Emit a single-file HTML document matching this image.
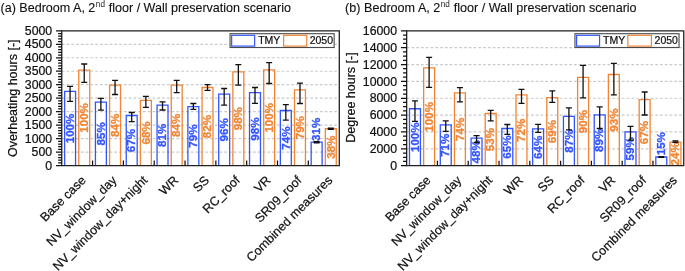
<!DOCTYPE html>
<html lang="en">
<head>
<meta charset="utf-8">
<title>Bedroom A, 2nd floor / Wall preservation scenario</title>
<style>
html,body{margin:0;padding:0;background:#fff;}
body{width:685px;height:271px;overflow:hidden;}
svg{display:block;font-family:'Liberation Sans', Arial, sans-serif;}
.t{stroke:#111;stroke-width:.22px;}
.t2{stroke:#111;stroke-width:.12px;}
.t0{stroke:none;fill:#222;}

</style>
</head>
<body>
<svg xmlns="http://www.w3.org/2000/svg" fill="#111" width="685" height="271" viewBox="0 0 685 271">
<rect width="685" height="271" fill="#fff"/>
<line x1="61.75" y1="152.12" x2="339.30" y2="152.12" stroke="#cacaca" stroke-width="1.2" stroke-dasharray="2.75 2.03"/>
<line x1="61.75" y1="138.64" x2="339.30" y2="138.64" stroke="#cacaca" stroke-width="1.2" stroke-dasharray="2.75 2.03"/>
<line x1="61.75" y1="125.16" x2="339.30" y2="125.16" stroke="#cacaca" stroke-width="1.2" stroke-dasharray="2.75 2.03"/>
<line x1="61.75" y1="111.68" x2="339.30" y2="111.68" stroke="#cacaca" stroke-width="1.2" stroke-dasharray="2.75 2.03"/>
<line x1="61.75" y1="98.20" x2="339.30" y2="98.20" stroke="#cacaca" stroke-width="1.2" stroke-dasharray="2.75 2.03"/>
<line x1="61.75" y1="84.72" x2="339.30" y2="84.72" stroke="#cacaca" stroke-width="1.2" stroke-dasharray="2.75 2.03"/>
<line x1="61.75" y1="71.24" x2="339.30" y2="71.24" stroke="#cacaca" stroke-width="1.2" stroke-dasharray="2.75 2.03"/>
<line x1="61.75" y1="57.76" x2="339.30" y2="57.76" stroke="#cacaca" stroke-width="1.2" stroke-dasharray="2.75 2.03"/>
<line x1="61.75" y1="44.28" x2="339.30" y2="44.28" stroke="#cacaca" stroke-width="1.2" stroke-dasharray="2.75 2.03"/>
<path d="M64.61 165.60V91.30h10.94V165.60" fill="none" stroke="#3355ff" stroke-width="1.3"/>
<path d="M78.77 165.60V70.20h10.94V165.60" fill="none" stroke="#f08535" stroke-width="1.3"/>
<path d="M95.43 165.60V102.20h10.94V165.60" fill="none" stroke="#3355ff" stroke-width="1.3"/>
<path d="M109.59 165.60V85.05h10.94V165.60" fill="none" stroke="#f08535" stroke-width="1.3"/>
<path d="M126.25 165.60V115.50h10.94V165.60" fill="none" stroke="#3355ff" stroke-width="1.3"/>
<path d="M140.41 165.60V100.30h10.94V165.60" fill="none" stroke="#f08535" stroke-width="1.3"/>
<path d="M157.07 165.60V105.10h10.94V165.60" fill="none" stroke="#3355ff" stroke-width="1.3"/>
<path d="M171.23 165.60V85.05h10.94V165.60" fill="none" stroke="#f08535" stroke-width="1.3"/>
<path d="M187.89 165.60V106.70h10.94V165.60" fill="none" stroke="#3355ff" stroke-width="1.3"/>
<path d="M202.05 165.60V87.50h10.94V165.60" fill="none" stroke="#f08535" stroke-width="1.3"/>
<path d="M218.71 165.60V94.20h10.94V165.60" fill="none" stroke="#3355ff" stroke-width="1.3"/>
<path d="M232.87 165.60V71.80h10.94V165.60" fill="none" stroke="#f08535" stroke-width="1.3"/>
<path d="M249.53 165.60V92.60h10.94V165.60" fill="none" stroke="#3355ff" stroke-width="1.3"/>
<path d="M263.69 165.60V69.90h10.94V165.60" fill="none" stroke="#f08535" stroke-width="1.3"/>
<path d="M280.35 165.60V110.50h10.94V165.60" fill="none" stroke="#3355ff" stroke-width="1.3"/>
<path d="M294.51 165.60V89.80h10.94V165.60" fill="none" stroke="#f08535" stroke-width="1.3"/>
<path d="M311.17 165.60V142.20h10.94V165.60" fill="none" stroke="#3355ff" stroke-width="1.3"/>
<path d="M325.33 165.60V128.75h10.94V165.60" fill="none" stroke="#f08535" stroke-width="1.3"/>
<text transform="translate(73.78 128.45) rotate(-90)" text-anchor="middle" font-size="11.6" font-weight="bold" fill="#3355ff" stroke="#3355ff" stroke-width="0.3">100%</text>
<text transform="translate(87.94 117.90) rotate(-90)" text-anchor="middle" font-size="11.6" font-weight="bold" fill="#f08535" stroke="#f08535" stroke-width="0.3">100%</text>
<text transform="translate(104.60 133.90) rotate(-90)" text-anchor="middle" font-size="11.6" font-weight="bold" fill="#3355ff" stroke="#3355ff" stroke-width="0.3">85%</text>
<text transform="translate(118.76 125.32) rotate(-90)" text-anchor="middle" font-size="11.6" font-weight="bold" fill="#f08535" stroke="#f08535" stroke-width="0.3">84%</text>
<text transform="translate(135.42 140.55) rotate(-90)" text-anchor="middle" font-size="11.6" font-weight="bold" fill="#3355ff" stroke="#3355ff" stroke-width="0.3">67%</text>
<text transform="translate(149.58 132.95) rotate(-90)" text-anchor="middle" font-size="11.6" font-weight="bold" fill="#f08535" stroke="#f08535" stroke-width="0.3">68%</text>
<text transform="translate(166.24 135.35) rotate(-90)" text-anchor="middle" font-size="11.6" font-weight="bold" fill="#3355ff" stroke="#3355ff" stroke-width="0.3">81%</text>
<text transform="translate(180.40 125.32) rotate(-90)" text-anchor="middle" font-size="11.6" font-weight="bold" fill="#f08535" stroke="#f08535" stroke-width="0.3">84%</text>
<text transform="translate(197.06 136.15) rotate(-90)" text-anchor="middle" font-size="11.6" font-weight="bold" fill="#3355ff" stroke="#3355ff" stroke-width="0.3">79%</text>
<text transform="translate(211.22 126.55) rotate(-90)" text-anchor="middle" font-size="11.6" font-weight="bold" fill="#f08535" stroke="#f08535" stroke-width="0.3">82%</text>
<text transform="translate(227.88 129.90) rotate(-90)" text-anchor="middle" font-size="11.6" font-weight="bold" fill="#3355ff" stroke="#3355ff" stroke-width="0.3">96%</text>
<text transform="translate(242.04 118.70) rotate(-90)" text-anchor="middle" font-size="11.6" font-weight="bold" fill="#f08535" stroke="#f08535" stroke-width="0.3">98%</text>
<text transform="translate(258.70 129.10) rotate(-90)" text-anchor="middle" font-size="11.6" font-weight="bold" fill="#3355ff" stroke="#3355ff" stroke-width="0.3">98%</text>
<text transform="translate(272.86 117.75) rotate(-90)" text-anchor="middle" font-size="11.6" font-weight="bold" fill="#f08535" stroke="#f08535" stroke-width="0.3">100%</text>
<text transform="translate(289.52 138.05) rotate(-90)" text-anchor="middle" font-size="11.6" font-weight="bold" fill="#3355ff" stroke="#3355ff" stroke-width="0.3">74%</text>
<text transform="translate(303.68 127.70) rotate(-90)" text-anchor="middle" font-size="11.6" font-weight="bold" fill="#f08535" stroke="#f08535" stroke-width="0.3">79%</text>
<text transform="translate(320.34 141.00) rotate(-90)" text-anchor="start" font-size="11.6" font-weight="bold" fill="#3355ff" stroke="#3355ff" stroke-width="0.3">31%</text>
<text transform="translate(334.50 147.18) rotate(-90)" text-anchor="middle" font-size="11.6" font-weight="bold" fill="#f08535" stroke="#f08535" stroke-width="0.3">38%</text>
<path d="M70.08 86.30V101.30M67.08 86.30h6M67.08 101.30h6" fill="none" stroke="#111" stroke-width="1.3"/>
<path d="M84.24 64.00V82.30M81.24 64.00h6M81.24 82.30h6" fill="none" stroke="#111" stroke-width="1.3"/>
<path d="M100.90 98.40V110.20M97.90 98.40h6M97.90 110.20h6" fill="none" stroke="#111" stroke-width="1.3"/>
<path d="M115.06 80.30V94.50M112.06 80.30h6M112.06 94.50h6" fill="none" stroke="#111" stroke-width="1.3"/>
<path d="M131.72 112.50V121.60M128.72 112.50h6M128.72 121.60h6" fill="none" stroke="#111" stroke-width="1.3"/>
<path d="M145.88 96.30V107.30M142.88 96.30h6M142.88 107.30h6" fill="none" stroke="#111" stroke-width="1.3"/>
<path d="M162.54 101.90V110.00M159.54 101.90h6M159.54 110.00h6" fill="none" stroke="#111" stroke-width="1.3"/>
<path d="M176.70 80.30V92.60M173.70 80.30h6M173.70 92.60h6" fill="none" stroke="#111" stroke-width="1.3"/>
<path d="M193.36 103.50V109.40M190.36 103.50h6M190.36 109.40h6" fill="none" stroke="#111" stroke-width="1.3"/>
<path d="M207.52 84.70V90.40M204.52 84.70h6M204.52 90.40h6" fill="none" stroke="#111" stroke-width="1.3"/>
<path d="M224.18 88.50V105.10M221.18 88.50h6M221.18 105.10h6" fill="none" stroke="#111" stroke-width="1.3"/>
<path d="M238.34 64.70V85.05M235.34 64.70h6M235.34 85.05h6" fill="none" stroke="#111" stroke-width="1.3"/>
<path d="M255.00 87.50V103.30M252.00 87.50h6M252.00 103.30h6" fill="none" stroke="#111" stroke-width="1.3"/>
<path d="M269.16 62.70V83.50M266.16 62.70h6M266.16 83.50h6" fill="none" stroke="#111" stroke-width="1.3"/>
<path d="M285.82 104.70V120.20M282.82 104.70h6M282.82 120.20h6" fill="none" stroke="#111" stroke-width="1.3"/>
<path d="M299.98 83.15V103.50M296.98 83.15h6M296.98 103.50h6" fill="none" stroke="#111" stroke-width="1.3"/>
<path d="M316.64 141.60V142.80M313.64 141.60h6M313.64 142.80h6" fill="none" stroke="#111" stroke-width="1.3"/>
<path d="M330.80 128.20V129.40M327.80 128.20h6M327.80 129.40h6" fill="none" stroke="#111" stroke-width="1.3"/>
<path d="M61.75 30.80H339.30V165.60H61.75Z" fill="none" stroke="#202020" stroke-width="1.3"/>
<path d="M61.75 165.60h-5.7M61.75 162.90h-3.6M61.75 160.21h-3.6M61.75 157.51h-3.6M61.75 154.82h-3.6M61.75 152.12h-5.7M61.75 149.42h-3.6M61.75 146.73h-3.6M61.75 144.03h-3.6M61.75 141.34h-3.6M61.75 138.64h-5.7M61.75 135.94h-3.6M61.75 133.25h-3.6M61.75 130.55h-3.6M61.75 127.86h-3.6M61.75 125.16h-5.7M61.75 122.46h-3.6M61.75 119.77h-3.6M61.75 117.07h-3.6M61.75 114.38h-3.6M61.75 111.68h-5.7M61.75 108.98h-3.6M61.75 106.29h-3.6M61.75 103.59h-3.6M61.75 100.90h-3.6M61.75 98.20h-5.7M61.75 95.50h-3.6M61.75 92.81h-3.6M61.75 90.11h-3.6M61.75 87.42h-3.6M61.75 84.72h-5.7M61.75 82.02h-3.6M61.75 79.33h-3.6M61.75 76.63h-3.6M61.75 73.94h-3.6M61.75 71.24h-5.7M61.75 68.54h-3.6M61.75 65.85h-3.6M61.75 63.15h-3.6M61.75 60.46h-3.6M61.75 57.76h-5.7M61.75 55.06h-3.6M61.75 52.37h-3.6M61.75 49.67h-3.6M61.75 46.98h-3.6M61.75 44.28h-5.7M61.75 41.58h-3.6M61.75 38.89h-3.6M61.75 36.19h-3.6M61.75 33.50h-3.6M61.75 30.80h-5.7M92.57 165.60v-5M123.39 165.60v-5M154.21 165.60v-5M185.03 165.60v-5M215.85 165.60v-5M246.67 165.60v-5M277.49 165.60v-5M308.31 165.60v-5" fill="none" stroke="#111" stroke-width="1.25"/>
<text transform="translate(52.15 169.80) rotate(0.02)" text-anchor="end" font-size="12.3" class="t">0</text>
<text transform="translate(52.15 156.32) rotate(0.02)" text-anchor="end" font-size="12.3" class="t">500</text>
<text transform="translate(52.15 142.84) rotate(0.02)" text-anchor="end" font-size="12.3" class="t">1000</text>
<text transform="translate(52.15 129.36) rotate(0.02)" text-anchor="end" font-size="12.3" class="t">1500</text>
<text transform="translate(52.15 115.88) rotate(0.02)" text-anchor="end" font-size="12.3" class="t">2000</text>
<text transform="translate(52.15 102.40) rotate(0.02)" text-anchor="end" font-size="12.3" class="t">2500</text>
<text transform="translate(52.15 88.92) rotate(0.02)" text-anchor="end" font-size="12.3" class="t">3000</text>
<text transform="translate(52.15 75.44) rotate(0.02)" text-anchor="end" font-size="12.3" class="t">3500</text>
<text transform="translate(52.15 61.96) rotate(0.02)" text-anchor="end" font-size="12.3" class="t">4000</text>
<text transform="translate(52.15 48.48) rotate(0.02)" text-anchor="end" font-size="12.3" class="t">4500</text>
<text transform="translate(52.15 35.00) rotate(0.02)" text-anchor="end" font-size="12.3" class="t">5000</text>
<text transform="translate(16.70 98.20) rotate(-90)" text-anchor="middle" font-size="12.5" class="t">Overheating hours [-]</text>
<text transform="translate(86.56 181.00) rotate(-45)" text-anchor="end" font-size="12.5" class="t">Base case</text>
<text transform="translate(117.38 181.00) rotate(-45)" text-anchor="end" font-size="12.5" class="t">NV_window_day</text>
<text transform="translate(148.20 181.00) rotate(-45)" text-anchor="end" font-size="12.5" class="t">NV_window_day+night</text>
<text transform="translate(179.02 181.00) rotate(-45)" text-anchor="end" font-size="12.5" class="t">WR</text>
<text transform="translate(209.84 181.00) rotate(-45)" text-anchor="end" font-size="12.5" class="t">SS</text>
<text transform="translate(240.66 181.00) rotate(-45)" text-anchor="end" font-size="12.5" class="t">RC_roof</text>
<text transform="translate(271.48 181.00) rotate(-45)" text-anchor="end" font-size="12.5" class="t">VR</text>
<text transform="translate(302.30 181.00) rotate(-45)" text-anchor="end" font-size="12.5" class="t">SR09_roof</text>
<text transform="translate(333.12 181.00) rotate(-45)" text-anchor="end" font-size="12.5" class="t">Combined measures</text>
<text transform="translate(0.50 11.8) rotate(0.02)" font-size="12.55" class="t2">(a) Bedroom A, 2<tspan font-size="8.2" dy="-5.1" dx="0.5" class="t0">nd</tspan><tspan dy="5.1" dx="0.3"> floor / Wall preservation scenario</tspan></text>
<rect x="230.05" y="33.7" width="104.1" height="13.8" fill="#fff" stroke="#4a4a4a" stroke-width="1.1"/>
<rect x="231.65" y="35.3" width="23.0" height="10.8" fill="#fff" stroke="#3355ff" stroke-width="1.2"/>
<text transform="translate(258.15 44.1) rotate(0.02)" font-size="10.5" class="t">TMY</text>
<rect x="283.65" y="35.3" width="23.1" height="10.8" fill="#fff" stroke="#f08535" stroke-width="1.2"/>
<text transform="translate(309.65 44.1) rotate(0.02)" font-size="10.5" class="t">2050</text>
<line x1="406.65" y1="148.84" x2="683.75" y2="148.84" stroke="#cacaca" stroke-width="1.2" stroke-dasharray="2.75 2.03"/>
<line x1="406.65" y1="131.97" x2="683.75" y2="131.97" stroke="#cacaca" stroke-width="1.2" stroke-dasharray="2.75 2.03"/>
<line x1="406.65" y1="115.11" x2="683.75" y2="115.11" stroke="#cacaca" stroke-width="1.2" stroke-dasharray="2.75 2.03"/>
<line x1="406.65" y1="98.25" x2="683.75" y2="98.25" stroke="#cacaca" stroke-width="1.2" stroke-dasharray="2.75 2.03"/>
<line x1="406.65" y1="81.39" x2="683.75" y2="81.39" stroke="#cacaca" stroke-width="1.2" stroke-dasharray="2.75 2.03"/>
<line x1="406.65" y1="64.53" x2="683.75" y2="64.53" stroke="#cacaca" stroke-width="1.2" stroke-dasharray="2.75 2.03"/>
<line x1="406.65" y1="47.66" x2="683.75" y2="47.66" stroke="#cacaca" stroke-width="1.2" stroke-dasharray="2.75 2.03"/>
<path d="M409.49 165.70V108.75h10.94V165.70" fill="none" stroke="#3355ff" stroke-width="1.3"/>
<path d="M423.65 165.70V67.95h10.94V165.70" fill="none" stroke="#f08535" stroke-width="1.3"/>
<path d="M440.28 165.70V124.80h10.94V165.70" fill="none" stroke="#3355ff" stroke-width="1.3"/>
<path d="M454.44 165.70V92.90h10.94V165.70" fill="none" stroke="#f08535" stroke-width="1.3"/>
<path d="M471.07 165.70V138.05h10.94V165.70" fill="none" stroke="#3355ff" stroke-width="1.3"/>
<path d="M485.23 165.70V113.50h10.94V165.70" fill="none" stroke="#f08535" stroke-width="1.3"/>
<path d="M501.86 165.70V128.50h10.94V165.70" fill="none" stroke="#3355ff" stroke-width="1.3"/>
<path d="M516.02 165.70V94.90h10.94V165.70" fill="none" stroke="#f08535" stroke-width="1.3"/>
<path d="M532.65 165.70V128.90h10.94V165.70" fill="none" stroke="#3355ff" stroke-width="1.3"/>
<path d="M546.81 165.70V97.60h10.94V165.70" fill="none" stroke="#f08535" stroke-width="1.3"/>
<path d="M563.44 165.70V116.40h10.94V165.70" fill="none" stroke="#3355ff" stroke-width="1.3"/>
<path d="M577.61 165.70V77.45h10.94V165.70" fill="none" stroke="#f08535" stroke-width="1.3"/>
<path d="M594.23 165.70V114.90h10.94V165.70" fill="none" stroke="#3355ff" stroke-width="1.3"/>
<path d="M608.39 165.70V74.50h10.94V165.70" fill="none" stroke="#f08535" stroke-width="1.3"/>
<path d="M625.02 165.70V131.90h10.94V165.70" fill="none" stroke="#3355ff" stroke-width="1.3"/>
<path d="M639.18 165.70V99.60h10.94V165.70" fill="none" stroke="#f08535" stroke-width="1.3"/>
<path d="M655.81 165.70V157.00h10.94V165.70" fill="none" stroke="#3355ff" stroke-width="1.3"/>
<path d="M669.98 165.70V142.05h10.94V165.70" fill="none" stroke="#f08535" stroke-width="1.3"/>
<text transform="translate(418.66 137.22) rotate(-90)" text-anchor="middle" font-size="11.6" font-weight="bold" fill="#3355ff" stroke="#3355ff" stroke-width="0.3">100%</text>
<text transform="translate(432.82 116.82) rotate(-90)" text-anchor="middle" font-size="11.6" font-weight="bold" fill="#f08535" stroke="#f08535" stroke-width="0.3">100%</text>
<text transform="translate(449.45 145.25) rotate(-90)" text-anchor="middle" font-size="11.6" font-weight="bold" fill="#3355ff" stroke="#3355ff" stroke-width="0.3">71%</text>
<text transform="translate(463.61 129.30) rotate(-90)" text-anchor="middle" font-size="11.6" font-weight="bold" fill="#f08535" stroke="#f08535" stroke-width="0.3">74%</text>
<text transform="translate(480.25 151.88) rotate(-90)" text-anchor="middle" font-size="11.6" font-weight="bold" fill="#3355ff" stroke="#3355ff" stroke-width="0.3">48%</text>
<text transform="translate(494.40 139.60) rotate(-90)" text-anchor="middle" font-size="11.6" font-weight="bold" fill="#f08535" stroke="#f08535" stroke-width="0.3">53%</text>
<text transform="translate(511.03 147.10) rotate(-90)" text-anchor="middle" font-size="11.6" font-weight="bold" fill="#3355ff" stroke="#3355ff" stroke-width="0.3">65%</text>
<text transform="translate(525.20 130.30) rotate(-90)" text-anchor="middle" font-size="11.6" font-weight="bold" fill="#f08535" stroke="#f08535" stroke-width="0.3">72%</text>
<text transform="translate(541.82 147.30) rotate(-90)" text-anchor="middle" font-size="11.6" font-weight="bold" fill="#3355ff" stroke="#3355ff" stroke-width="0.3">64%</text>
<text transform="translate(555.99 131.65) rotate(-90)" text-anchor="middle" font-size="11.6" font-weight="bold" fill="#f08535" stroke="#f08535" stroke-width="0.3">69%</text>
<text transform="translate(572.62 141.05) rotate(-90)" text-anchor="middle" font-size="11.6" font-weight="bold" fill="#3355ff" stroke="#3355ff" stroke-width="0.3">87%</text>
<text transform="translate(586.78 121.57) rotate(-90)" text-anchor="middle" font-size="11.6" font-weight="bold" fill="#f08535" stroke="#f08535" stroke-width="0.3">90%</text>
<text transform="translate(603.40 140.30) rotate(-90)" text-anchor="middle" font-size="11.6" font-weight="bold" fill="#3355ff" stroke="#3355ff" stroke-width="0.3">89%</text>
<text transform="translate(617.57 120.10) rotate(-90)" text-anchor="middle" font-size="11.6" font-weight="bold" fill="#f08535" stroke="#f08535" stroke-width="0.3">93%</text>
<text transform="translate(634.19 148.80) rotate(-90)" text-anchor="middle" font-size="11.6" font-weight="bold" fill="#3355ff" stroke="#3355ff" stroke-width="0.3">59%</text>
<text transform="translate(648.36 132.65) rotate(-90)" text-anchor="middle" font-size="11.6" font-weight="bold" fill="#f08535" stroke="#f08535" stroke-width="0.3">67%</text>
<text transform="translate(664.99 155.30) rotate(-90)" text-anchor="start" font-size="11.6" font-weight="bold" fill="#3355ff" stroke="#3355ff" stroke-width="0.3">15%</text>
<text transform="translate(679.15 153.88) rotate(-90)" text-anchor="middle" font-size="11.6" font-weight="bold" fill="#f08535" stroke="#f08535" stroke-width="0.3">24%</text>
<path d="M414.96 100.95V121.40M411.96 100.95h6M411.96 121.40h6" fill="none" stroke="#111" stroke-width="1.3"/>
<path d="M429.12 57.40V87.30M426.12 57.40h6M426.12 87.30h6" fill="none" stroke="#111" stroke-width="1.3"/>
<path d="M445.75 120.95V131.40M442.75 120.95h6M442.75 131.40h6" fill="none" stroke="#111" stroke-width="1.3"/>
<path d="M459.91 87.70V101.95M456.91 87.70h6M456.91 101.95h6" fill="none" stroke="#111" stroke-width="1.3"/>
<path d="M476.55 135.70V142.50M473.55 135.70h6M473.55 142.50h6" fill="none" stroke="#111" stroke-width="1.3"/>
<path d="M490.70 110.30V120.95M487.70 110.30h6M487.70 120.95h6" fill="none" stroke="#111" stroke-width="1.3"/>
<path d="M507.33 124.50V134.40M504.33 124.50h6M504.33 134.40h6" fill="none" stroke="#111" stroke-width="1.3"/>
<path d="M521.50 89.40V103.30M518.50 89.40h6M518.50 103.30h6" fill="none" stroke="#111" stroke-width="1.3"/>
<path d="M538.12 124.40V132.40M535.12 124.40h6M535.12 132.40h6" fill="none" stroke="#111" stroke-width="1.3"/>
<path d="M552.28 90.80V102.40M549.28 90.80h6M549.28 102.40h6" fill="none" stroke="#111" stroke-width="1.3"/>
<path d="M568.91 107.95V129.90M565.91 107.95h6M565.91 129.90h6" fill="none" stroke="#111" stroke-width="1.3"/>
<path d="M583.08 65.40V97.85M580.08 65.40h6M580.08 97.85h6" fill="none" stroke="#111" stroke-width="1.3"/>
<path d="M599.70 106.95V128.50M596.70 106.95h6M596.70 128.50h6" fill="none" stroke="#111" stroke-width="1.3"/>
<path d="M613.87 63.40V94.85M610.87 63.40h6M610.87 94.85h6" fill="none" stroke="#111" stroke-width="1.3"/>
<path d="M630.49 126.30V140.10M627.49 126.30h6M627.49 140.10h6" fill="none" stroke="#111" stroke-width="1.3"/>
<path d="M644.65 92.00V115.00M641.65 92.00h6M641.65 115.00h6" fill="none" stroke="#111" stroke-width="1.3"/>
<path d="M661.28 156.55V157.45M658.28 156.55h6M658.28 157.45h6" fill="none" stroke="#111" stroke-width="1.3"/>
<path d="M675.45 140.90V142.30M672.45 140.90h6M672.45 142.30h6" fill="none" stroke="#111" stroke-width="1.3"/>
<path d="M406.65 30.80H683.75V165.70H406.65Z" fill="none" stroke="#202020" stroke-width="1.3"/>
<path d="M406.65 165.70h-5.7M406.65 161.48h-3.6M406.65 157.27h-3.6M406.65 153.05h-3.6M406.65 148.84h-5.7M406.65 144.62h-3.6M406.65 140.41h-3.6M406.65 136.19h-3.6M406.65 131.97h-5.7M406.65 127.76h-3.6M406.65 123.54h-3.6M406.65 119.33h-3.6M406.65 115.11h-5.7M406.65 110.90h-3.6M406.65 106.68h-3.6M406.65 102.47h-3.6M406.65 98.25h-5.7M406.65 94.03h-3.6M406.65 89.82h-3.6M406.65 85.60h-3.6M406.65 81.39h-5.7M406.65 77.17h-3.6M406.65 72.96h-3.6M406.65 68.74h-3.6M406.65 64.53h-5.7M406.65 60.31h-3.6M406.65 56.09h-3.6M406.65 51.88h-3.6M406.65 47.66h-5.7M406.65 43.45h-3.6M406.65 39.23h-3.6M406.65 35.02h-3.6M406.65 30.80h-5.7M437.44 165.70v-5M468.23 165.70v-5M499.02 165.70v-5M529.81 165.70v-5M560.60 165.70v-5M591.39 165.70v-5M622.18 165.70v-5M652.97 165.70v-5" fill="none" stroke="#111" stroke-width="1.25"/>
<text transform="translate(397.05 169.90) rotate(0.02)" text-anchor="end" font-size="12.3" class="t">0</text>
<text transform="translate(397.05 153.04) rotate(0.02)" text-anchor="end" font-size="12.3" class="t">2000</text>
<text transform="translate(397.05 136.17) rotate(0.02)" text-anchor="end" font-size="12.3" class="t">4000</text>
<text transform="translate(397.05 119.31) rotate(0.02)" text-anchor="end" font-size="12.3" class="t">6000</text>
<text transform="translate(397.05 102.45) rotate(0.02)" text-anchor="end" font-size="12.3" class="t">8000</text>
<text transform="translate(397.05 85.59) rotate(0.02)" text-anchor="end" font-size="12.3" class="t">10000</text>
<text transform="translate(397.05 68.73) rotate(0.02)" text-anchor="end" font-size="12.3" class="t">12000</text>
<text transform="translate(397.05 51.86) rotate(0.02)" text-anchor="end" font-size="12.3" class="t">14000</text>
<text transform="translate(397.05 35.00) rotate(0.02)" text-anchor="end" font-size="12.3" class="t">16000</text>
<text transform="translate(355.00 97.50) rotate(-90)" text-anchor="middle" font-size="12.5" class="t">Degree hours [-]</text>
<text transform="translate(431.44 181.00) rotate(-45)" text-anchor="end" font-size="12.5" class="t">Base case</text>
<text transform="translate(462.23 181.00) rotate(-45)" text-anchor="end" font-size="12.5" class="t">NV_window_day</text>
<text transform="translate(493.02 181.00) rotate(-45)" text-anchor="end" font-size="12.5" class="t">NV_window_day+night</text>
<text transform="translate(523.81 181.00) rotate(-45)" text-anchor="end" font-size="12.5" class="t">WR</text>
<text transform="translate(554.60 181.00) rotate(-45)" text-anchor="end" font-size="12.5" class="t">SS</text>
<text transform="translate(585.39 181.00) rotate(-45)" text-anchor="end" font-size="12.5" class="t">RC_roof</text>
<text transform="translate(616.18 181.00) rotate(-45)" text-anchor="end" font-size="12.5" class="t">VR</text>
<text transform="translate(646.97 181.00) rotate(-45)" text-anchor="end" font-size="12.5" class="t">SR09_roof</text>
<text transform="translate(677.76 181.00) rotate(-45)" text-anchor="end" font-size="12.5" class="t">Combined measures</text>
<text transform="translate(345.10 11.8) rotate(0.02)" font-size="12.6" class="t2">(b) Bedroom A, 2<tspan font-size="8.2" dy="-5.1" dx="0.5" class="t0">nd</tspan><tspan dy="5.1" dx="0.3"> floor / Wall preservation scenario</tspan></text>
<rect x="574.95" y="33.7" width="104.1" height="13.8" fill="#fff" stroke="#4a4a4a" stroke-width="1.1"/>
<rect x="576.55" y="35.3" width="23.0" height="10.8" fill="#fff" stroke="#3355ff" stroke-width="1.2"/>
<text transform="translate(603.05 44.1) rotate(0.02)" font-size="10.5" class="t">TMY</text>
<rect x="627.85" y="35.3" width="23.6" height="10.8" fill="#fff" stroke="#f08535" stroke-width="1.2"/>
<text transform="translate(654.55 44.1) rotate(0.02)" font-size="10.5" class="t">2050</text>
</svg>
</body>
</html>
